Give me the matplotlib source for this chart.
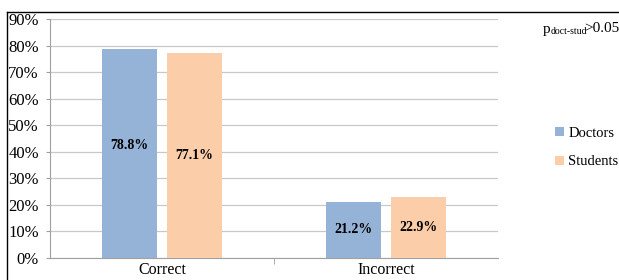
from matplotlib import pyplot as plt
from matplotlib.lines import Line2D
from matplotlib.ticker import FuncFormatter, FixedLocator
import numpy as np

plt.rcParams['font.family'] = ['Liberation Serif', 'DejaVu Serif']

categories = ['Correct', 'Incorrect']
series_names = ['Doctors', 'Students']
doctors = [78.8, 21.2]
students = [77.1, 22.9]

colors = ['#95B3D7', '#FBCDA8']
width = 0.245
offset = 0.145

fig = plt.figure(figsize=(6.19, 2.8), dpi=100)
ax = fig.add_axes([50 / 619, 22 / 280, 448 / 619, 239 / 280])

x = np.arange(len(categories))
for vals, name, col, sgn in zip([doctors, students], series_names, colors, [-1, 1]):
    bars = ax.bar(x + sgn * offset, vals, width, color=col, label=name, zorder=3)
    for b, v in zip(bars, vals):
        ax.text(b.get_x() + b.get_width() / 2, v / 2 + (3 if v > 50 and sgn < 0 else 0),
                '%.1f%%' % v, ha='center', va='center', fontsize=10,
                fontweight='bold', zorder=4)

ax.set_xlim(-0.5, 1.5)
ax.set_ylim(0, 90)
ax.set_yticks(np.arange(0, 91, 10))
ax.yaxis.set_major_formatter(FuncFormatter(lambda v, p: '%d%%' % v))
ax.tick_params(axis='y', labelsize=12, length=3, color='#A0A0A0', pad=5)
ax.grid(axis='y', color='#C8C8C8', linewidth=0.9, zorder=0)

ax.set_xticks(x)
ax.set_xticklabels(categories, fontsize=11.5)
ax.tick_params(axis='x', length=0, pad=3)
ax.xaxis.set_minor_locator(FixedLocator([0.5]))
ax.tick_params(axis='x', which='minor', length=4, color='#A0A0A0')

for s in ['top', 'right']:
    ax.spines[s].set_visible(False)
for s in ['left', 'bottom']:
    ax.spines[s].set_color('#A0A0A0')

ax.legend(loc='upper left', bbox_to_anchor=(555 / 619, 1 - 127 / 280),
          bbox_transform=fig.transFigure, frameon=False, fontsize=10.5,
          handlelength=0.6, handleheight=0.6, handletextpad=0.3,
          labelspacing=1.05, borderpad=0, borderaxespad=0)

fig.text(543 / 619, 1 - 29 / 280, 'p', fontsize=11, va='center', ha='left')
fig.text(551 / 619, 1 - 31 / 280, 'doct-stud', fontsize=7, va='center', ha='left')
fig.text(584 / 619, 1 - 28 / 280, '>0.05', fontsize=11, va='center', ha='left')

# outer frame (cropped screenshot)
fig.add_artist(Line2D([7 / 619, 7 / 619], [0, 1 - 12 / 280], color='black', lw=1,
                      transform=fig.transFigure))
fig.add_artist(Line2D([7 / 619, 1], [1 - 12 / 280, 1 - 12 / 280], color='black', lw=1,
                      transform=fig.transFigure))

fig.savefig('out.png', dpi=100)
